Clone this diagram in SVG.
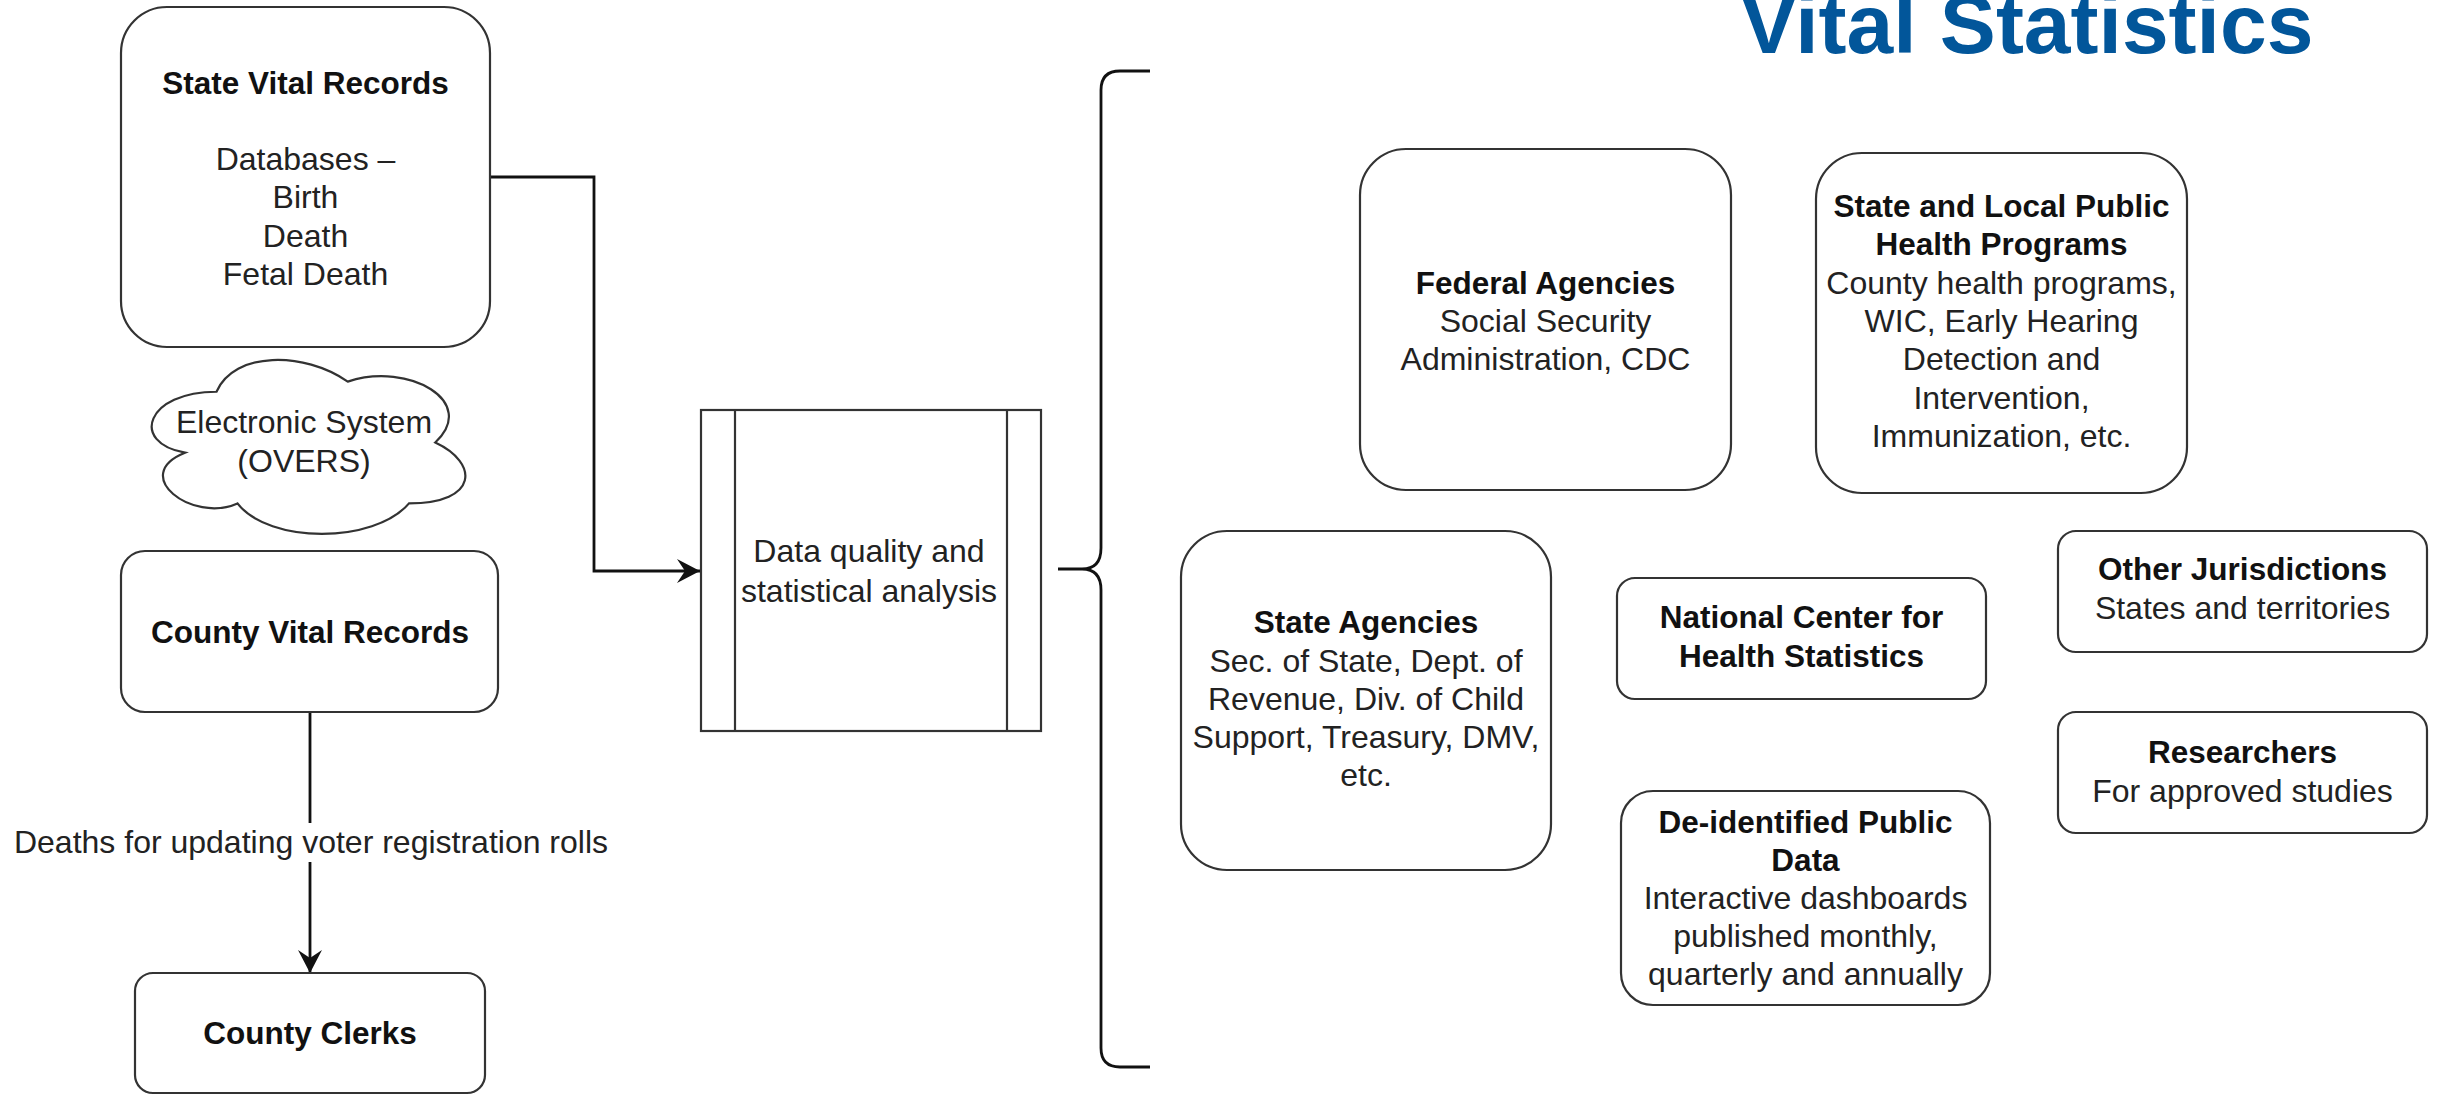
<svg xmlns="http://www.w3.org/2000/svg" width="2438" height="1095" viewBox="0 0 2438 1095">
<style>
.box{fill:#fff;stroke:#333;stroke-width:2.2}
.t{font-family:"Liberation Sans",Arial,sans-serif;font-size:32px;fill:#222;text-anchor:middle}
.b{font-weight:bold;font-size:31.5px;fill:#111}
.edge{fill:none;stroke:#111;stroke-width:2.8}
</style>
<defs>
<marker id="arr" markerUnits="userSpaceOnUse" viewBox="0 0 23 24" refX="23" refY="12" markerWidth="23" markerHeight="24" orient="auto">
<path d="M0,0 L23,12 L0,24 L8,12 Z" fill="#111"/>
</marker>
</defs>
<rect width="2438" height="1095" fill="#fff"/>
<text x="2027" y="53" style="font-family:'Liberation Sans',Arial,sans-serif;font-weight:bold;font-size:84px;fill:#02569A;text-anchor:middle">Vital Statistics</text>

<g id="connectors">
<path class="edge" d="M490,177 H594 V571 H700" marker-end="url(#arr)"/>
<path class="edge" d="M310,712 V973" marker-end="url(#arr)"/>
<rect x="12" y="823" width="598" height="39" fill="#fff"/>
<text class="t" x="311" y="853">Deaths for updating voter registration rolls</text>
<path class="edge" stroke-width="3.6" d="M1150,71 H1120 Q1101,71 1101,90 V548 Q1101,569 1082,569 H1058 M1082,569 Q1101,569 1101,590 V1048 Q1101,1067 1120,1067 H1150"/>
</g>

<g id="state-vital-records">
<rect class="box" x="121" y="7" width="369" height="340" rx="46"/>
<text class="t b" x="305.5" y="94">State Vital Records</text>
<text class="t" x="305.5" y="170">Databases –</text>
<text class="t" x="305.5" y="208">Birth</text>
<text class="t" x="305.5" y="247">Death</text>
<text class="t" x="305.5" y="285">Fetal Death</text>
</g>

<g id="electronic-system">
<path class="box" d="M216.5,391.75 C146.5,391.75 129,442.5 185,452.65 C129,474.98 192,523.7 237.5,503.4 C269,544 374,544 409,503.4 C479,503.4 479,462.8 435.25,442.5 C479,402 409,361.3 347.75,381.6 C304,351.15 234,351.15 216.5,391.75 Z"/>
<text class="t" x="304" y="433">Electronic System</text>
<text class="t" x="304" y="472">(OVERS)</text>
</g>

<g id="county-vital-records">
<rect class="box" x="121" y="551" width="377" height="161" rx="24"/>
<text class="t b" x="310" y="643">County Vital Records</text>
</g>

<g id="county-clerks">
<rect class="box" x="135" y="973" width="350" height="120" rx="18"/>
<text class="t b" x="310" y="1044">County Clerks</text>
</g>

<g id="data-quality">
<rect class="box" x="701" y="410" width="340" height="321"/>
<line x1="735" y1="410" x2="735" y2="731" stroke="#333" stroke-width="2.2"/>
<line x1="1007" y1="410" x2="1007" y2="731" stroke="#333" stroke-width="2.2"/>
<text class="t" x="869" y="562">Data quality and</text>
<text class="t" x="869" y="602">statistical analysis</text>
</g>

<g id="federal-agencies">
<rect class="box" x="1360" y="149" width="371" height="341" rx="46"/>
<text class="t b" x="1545.5" y="294">Federal Agencies</text>
<text class="t" x="1545.5" y="332">Social Security</text>
<text class="t" x="1545.5" y="370">Administration, CDC</text>
</g>

<g id="state-local-public-health">
<rect class="box" x="1816" y="153" width="371" height="340" rx="46"/>
<text class="t b" x="2001.5" y="217">State and Local Public</text>
<text class="t b" x="2001.5" y="255">Health Programs</text>
<text class="t" x="2001.5" y="294">County health programs,</text>
<text class="t" x="2001.5" y="332">WIC, Early Hearing</text>
<text class="t" x="2001.5" y="370">Detection and</text>
<text class="t" x="2001.5" y="409">Intervention,</text>
<text class="t" x="2001.5" y="447">Immunization, etc.</text>
</g>

<g id="state-agencies">
<rect class="box" x="1181" y="531" width="370" height="339" rx="46"/>
<text class="t b" x="1366" y="633">State Agencies</text>
<text class="t" x="1366" y="672">Sec. of State, Dept. of</text>
<text class="t" x="1366" y="710">Revenue, Div. of Child</text>
<text class="t" x="1366" y="748">Support, Treasury, DMV,</text>
<text class="t" x="1366" y="786">etc.</text>
</g>

<g id="nchs">
<rect class="box" x="1617" y="578" width="369" height="121" rx="18"/>
<text class="t b" x="1801.5" y="628">National Center for</text>
<text class="t b" x="1801.5" y="667">Health Statistics</text>
</g>

<g id="other-jurisdictions">
<rect class="box" x="2058" y="531" width="369" height="121" rx="18"/>
<text class="t b" x="2242.5" y="580">Other Jurisdictions</text>
<text class="t" x="2242.5" y="619">States and territories</text>
</g>

<g id="researchers">
<rect class="box" x="2058" y="712" width="369" height="121" rx="18"/>
<text class="t b" x="2242.5" y="763">Researchers</text>
<text class="t" x="2242.5" y="802">For approved studies</text>
</g>

<g id="deidentified-public-data">
<rect class="box" x="1621" y="791" width="369" height="214" rx="32"/>
<text class="t b" x="1805.5" y="833">De-identified Public</text>
<text class="t b" x="1805.5" y="871">Data</text>
<text class="t" x="1805.5" y="909">Interactive dashboards</text>
<text class="t" x="1805.5" y="947">published monthly,</text>
<text class="t" x="1805.5" y="985">quarterly and annually</text>
</g>
</svg>
